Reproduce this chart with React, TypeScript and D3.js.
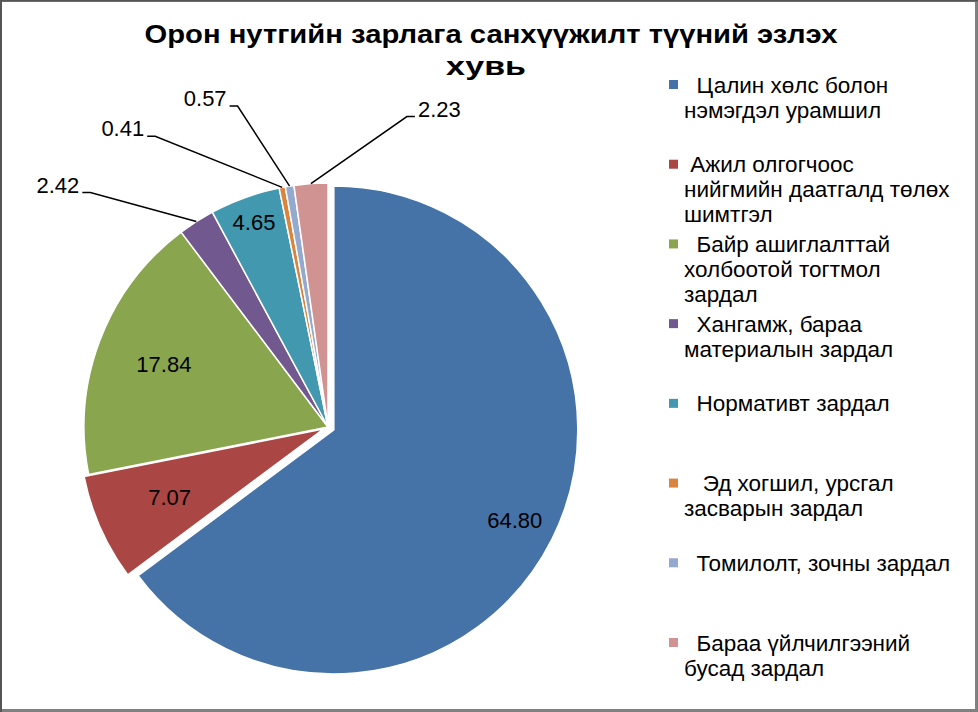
import React from 'react';
import * as d3 from 'd3';

// Орон нутгийн зарлага, санхүүжилтийн бүтэц (%)
const categories = [
  '  Цалин хөлс болон\nнэмэгдэл урамшил',
  ' Ажил олгогчоос\nнийгмийн даатгалд төлөх\nшимтгэл',
  '  Байр ашиглалттай\nхолбоотой тогтмол\nзардал',
  '  Хангамж, бараа\nматериалын зардал',
  '  Нормативт зардал',
  '   Эд хогшил, урсгал\nзасварын зардал',
  '  Томилолт, зочны зардал',
  '  Бараа үйлчилгээний\nбусад зардал',
];
const values = [64.8, 7.07, 17.84, 2.42, 4.65, 0.41, 0.57, 2.23];
const titleLines = ['Орон нутгийн зарлага санхүүжилт түүний эзлэх', 'хувь'];

const colors = ['#4572A7', '#AA4643', '#89A54E', '#71588F', '#4198AF', '#DB843D', '#93A9CF', '#D19392'];
// how far each slice is pulled out of the pie
const explode = [6.5, 5, 0, 0, 0, 0, 0, 0];
// inside labels sit at this fraction of the radius, null = callout label
const labelRatio = [0.83, 0.69, 0.72, null, 0.89, null, null, null];
// callout elbow relative to the slice edge point
const callout: ([number, number] | null)[] = [null, null, null, [-106, -29], null, [-127, -51], [-52, -80], [96, -67]];

const W = 978;
const H = 712;
const cx = 328;
const cy = 427;
const R = 244;
const FONT = '"Liberation Sans", Arial, sans-serif';

export default function App() {
  const pie = d3.pie<number>().sort(null).value(d => d);
  const arcs = pie(values);
  const arc = d3.arc<d3.PieArcDatum<number>>().innerRadius(0).outerRadius(R);

  const legendY = d3.scaleLinear().domain([0, 7]).range([85, 643]);

  const offset = (a: d3.PieArcDatum<number>, dist: number) => {
    const mid = (a.startAngle + a.endAngle) / 2;
    return [Math.sin(mid) * dist, -Math.cos(mid) * dist];
  };

  return (
    <div style={{ position: 'absolute', left: 0, top: 0 }}>
      <svg width={W} height={H} style={{ display: 'block', fontFamily: FONT }}>
        <rect x={0} y={0} width={W} height={H} fill="#808080" />
        <rect x={0} y={0} width={2} height={H} fill="#555" />
        <rect x={0} y={0} width={W} height={1.5} fill="#555" />
        <rect x={2} y={2} width={W - 5} height={H - 5} fill="#fff" />

        <text x={491} y={42.5} textAnchor="middle" fontSize={25} fontWeight="bold" fill="#000"
          textLength={693} lengthAdjust="spacingAndGlyphs">
          {titleLines[0]}
        </text>
        <text x={486} y={75} textAnchor="middle" fontSize={25} fontWeight="bold" fill="#000"
          textLength={80} lengthAdjust="spacingAndGlyphs">
          {titleLines[1]}
        </text>

        <g transform={`translate(${cx},${cy})`}>
          {arcs.map((a, i) => {
            const [dx, dy] = offset(a, explode[i]);
            return (
              <path key={i} d={arc(a) || ''} transform={`translate(${dx},${dy})`}
                fill={colors[i]} stroke="#fff" strokeWidth={1.5} strokeLinejoin="round" />
            );
          })}

          {arcs.map((a, i) => {
            const ratio = labelRatio[i];
            if (ratio == null) return null;
            const [dx, dy] = offset(a, explode[i]);
            const [lx, ly] = offset(a, R * ratio);
            return (
              <text key={'l' + i} x={lx + dx} y={ly + dy} textAnchor="middle" dominantBaseline="central"
                fontSize={22} fill="#000">
                {values[i].toFixed(2)}
              </text>
            );
          })}

          {arcs.map((a, i) => {
            const c = callout[i];
            if (!c) return null;
            const [px, py] = offset(a, R);
            const ex = px + c[0];
            const ey = py + c[1];
            const dir = c[0] < 0 ? -1 : 1;
            const hx = ex + dir * 8;
            return (
              <g key={'c' + i}>
                <polyline points={`${px},${py} ${ex},${ey} ${hx},${ey}`} fill="none" stroke="#000" strokeWidth={1.5} />
                <text x={hx + dir * 3} y={ey} textAnchor={dir < 0 ? 'end' : 'start'} fontSize={22} fill="#000">
                  {values[i].toFixed(2)}
                </text>
              </g>
            );
          })}
        </g>

        <g>
          {categories.map((c, i) => {
            const y0 = legendY(i);
            return (
              <g key={i}>
                <rect x={669} y={y0 - 5} width={9} height={9} fill={colors[i]} />
                {c.split('\n').map((line, j) => (
                  <text key={j} x={684} y={y0 + j * 25} dominantBaseline="central" fontSize={22.5}
                    fill="#000" style={{ whiteSpace: 'pre' }}>
                    {line}
                  </text>
                ))}
              </g>
            );
          })}
        </g>
      </svg>
    </div>
  );
}
